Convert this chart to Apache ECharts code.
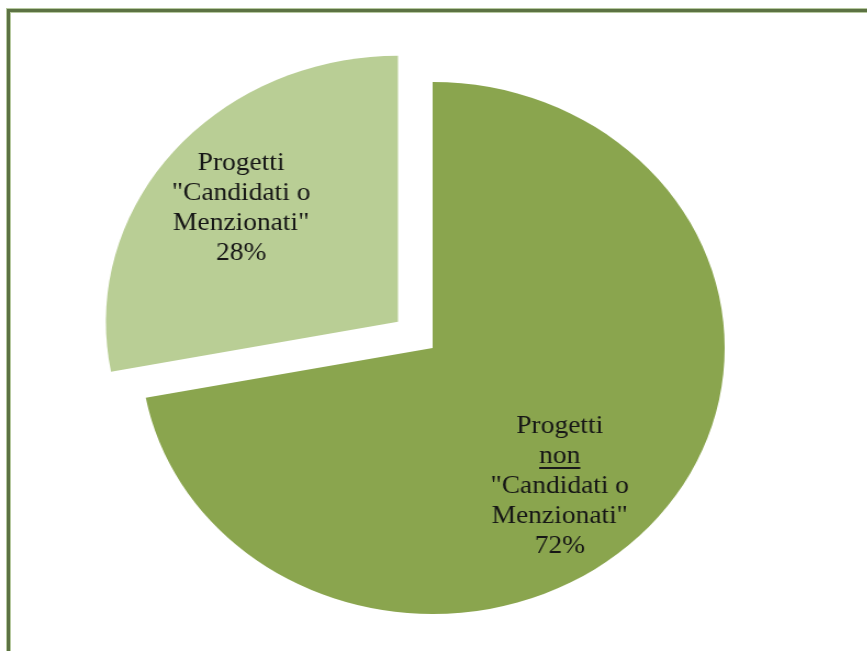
<!DOCTYPE html>
<html>
<head>
<meta charset="utf-8">
<script src="https://cdn.jsdelivr.net/npm/echarts@6/dist/echarts.min.js"></script>
<style>
  html, body { margin: 0; padding: 0; background: #ffffff; width: 867px; height: 651px; overflow: hidden; }
  #frame {
    position: absolute; left: 7px; top: 9px; width: 900px; height: 700px;
    border-top: 3px solid #5c7243; border-left: 3px solid #5c7243;
    box-shadow: -1px -1px 0 #b7c9a0, inset 1px 1px 0 #b7c9a0;
  }
  #chart {
    position: absolute; left: 0; top: 0; width: 790px; height: 651px;
    transform: scaleX(1.098); transform-origin: 0 0;
  }
</style>
</head>
<body>
<div id="frame"></div>
<div id="chart"></div>
<script>
// ---- data ----
const categories = ['Progetti non "Candidati o Menzionati"', 'Progetti "Candidati o Menzionati"'];
const values = [72, 28];
const labelLines = [
  ['Progetti', 'non', '"Candidati o', 'Menzionati"'],
  ['Progetti', '"Candidati o', 'Menzionati"']
];
const underlinedWords = ['non'];

// ---- chart ----
const colors = ['#8aa54e', '#b9ce95'];
const chart = echarts.init(document.getElementById('chart'), null, { renderer: 'canvas' });

const underlineBg = new echarts.graphic.LinearGradient(0, 0, 0, 1, [
  { offset: 0, color: 'rgba(0,0,0,0)' },
  { offset: 0.88, color: 'rgba(0,0,0,0)' },
  { offset: 0.88, color: '#1a1a1a' },
  { offset: 0.96, color: '#1a1a1a' },
  { offset: 0.96, color: 'rgba(0,0,0,0)' },
  { offset: 1, color: 'rgba(0,0,0,0)' }
]);

const textStyleBase = {
  fontFamily: '"Liberation Serif", "DejaVu Serif", serif',
  fontSize: 25,
  lineHeight: 30,
  color: '#161616'
};

chart.setOption({
  animation: false,
  backgroundColor: 'transparent',
  series: [{
    type: 'pie',
    center: [394, 348],
    radius: [0, 266],
    startAngle: 90,
    clockwise: true,
    selectedMode: 'single',
    selectedOffset: 41,
    avoidLabelOverlap: false,
    emphasis: { disabled: true },
    itemStyle: { borderWidth: 0 },
    label: {
      show: true,
      position: 'inside',
      align: 'center',
      formatter: function (p) {
        const lines = labelLines[p.dataIndex].map(function (w) {
          return underlinedWords.indexOf(w) >= 0 ? '{u|' + w + '}' : '{a|' + w + '}';
        });
        lines.push('{a|' + Math.round(p.percent) + '%}');
        return lines.join('\n');
      },
      rich: {
        a: Object.assign({}, textStyleBase),
        u: Object.assign({}, textStyleBase, { backgroundColor: underlineBg, height: 26, lineHeight: 30 })
      }
    },
    labelLine: { show: false },
    labelLayout: function (params) {
      return params.dataIndex === 0 ? { dx: 11, dy: 52 } : { dx: -38, dy: -27 };
    },
    data: categories.map(function (name, i) {
      return {
        name: name,
        value: values[i],
        selected: i === 1,
        itemStyle: { color: colors[i] }
      };
    })
  }]
});
</script>
</body>
</html>
